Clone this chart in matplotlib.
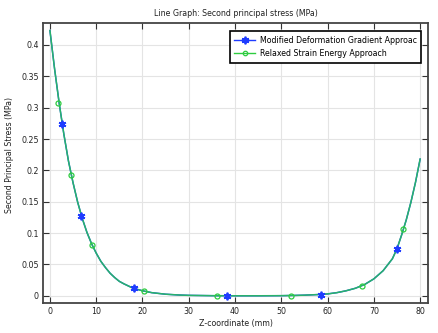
import matplotlib
matplotlib.use("Agg")
import matplotlib.pyplot as plt
from matplotlib.lines import Line2D

# Curve: second principal stress along the z-coordinate (MPa)
z_curve = [0, 1, 2, 3, 4, 5, 6, 7, 8, 9, 10, 11, 12, 13, 14, 15, 16, 18, 20, 22,
           25, 28, 30, 35, 40, 45, 50, 53, 55, 58, 60, 62, 64, 66, 68, 70, 72,
           74, 75, 76, 77, 78, 79, 80]
stress_curve = [0.423, 0.362, 0.307, 0.258, 0.215, 0.180, 0.149, 0.123, 0.101,
                0.083, 0.068, 0.055, 0.045, 0.036, 0.029, 0.023, 0.019, 0.012,
                0.008, 0.005, 0.0025, 0.0012, 0.0007, 0.0002, 0.0, 0.0, 0.0002,
                0.0006, 0.001, 0.002, 0.003, 0.005, 0.008, 0.012, 0.018, 0.027,
                0.040, 0.059, 0.075, 0.097, 0.121, 0.149, 0.181, 0.218]

# Marker positions of each approach
z_mdg = [2.5, 6.7, 18.2, 38.3, 58.6, 74.9]
s_mdg = [0.274, 0.128, 0.012, 0.0, 0.002, 0.075]
z_rse = [1.8, 4.5, 9.1, 20.4, 36.0, 52.0, 67.4, 76.3]
s_rse = [0.307, 0.193, 0.081, 0.007, 0.0, 0.0, 0.015, 0.106]

labels = ["Modified Deformation Gradient Approac", "Relaxed Strain Energy Approach"]
xticks = [0, 10, 20, 30, 40, 50, 60, 70, 80]
yticks = [0, 0.05, 0.1, 0.15, 0.2, 0.25, 0.3, 0.35, 0.4]
ytick_labels = ["0", "0.05", "0.1", "0.15", "0.2", "0.25", "0.3", "0.35", "0.4"]

blue = "#1f3cff"
green = "#2ecc40"
asterisk = (6, 2, 0)
fs = 5.7

fig = plt.figure(figsize=(4.38, 3.33), dpi=100)
ax = fig.add_axes([43 / 438, 30 / 333, 385 / 438, 280 / 333])

ax.plot(z_curve, stress_curve, color=blue, lw=1.0, zorder=2)
ax.plot(z_curve, stress_curve, color="#28b36a", lw=1.1, zorder=3)
ax.plot(z_mdg, s_mdg, ls="none", marker=asterisk, ms=5.5, mew=1.3,
        color=blue, zorder=4)
ax.plot(z_rse, s_rse, ls="none", marker="o", ms=3.6, mfc="none", mew=0.9,
        color=green, zorder=4)

ax.set_xlim(-1.5, 81.7)
ax.set_ylim(-0.0115, 0.435)
ax.set_xticks(xticks)
ax.set_yticks(yticks)
ax.set_yticklabels(ytick_labels)
ax.grid(True, color="#e4e4e4", lw=0.8)
ax.set_axisbelow(True)
ax.tick_params(direction="in", length=4, width=0.8, labelsize=fs,
               top=True, right=True, colors="#333333", labelcolor="#222222",
               pad=3)
for sp in ax.spines.values():
    sp.set_color("#444444")
    sp.set_linewidth(1.3)

ax.set_title("Line Graph: Second principal stress (MPa)", fontsize=fs,
             pad=5, color="#222222")
ax.set_xlabel("Z-coordinate (mm)", fontsize=fs, labelpad=2, color="#222222")
ax.set_ylabel("Second Principal Stress (MPa)", fontsize=fs, color="#222222")
ax.yaxis.set_label_coords(-0.076, 0.53)

handles = [
    Line2D([], [], color=blue, lw=1.0, marker=asterisk, ms=5.5, mew=1.3),
    Line2D([], [], color=green, lw=1.0, marker="o", ms=3.2, mfc="none", mew=0.9),
]
leg = ax.legend(handles, labels, loc="upper right", fontsize=fs,
                bbox_to_anchor=(0.992, 0.985), fancybox=False, shadow=False,
                framealpha=1, edgecolor="black", handlelength=2.6,
                borderpad=0.55, labelspacing=0.6, handletextpad=0.6)
leg.get_frame().set_linewidth(1.2)

fig.savefig("out.png", dpi=100)
